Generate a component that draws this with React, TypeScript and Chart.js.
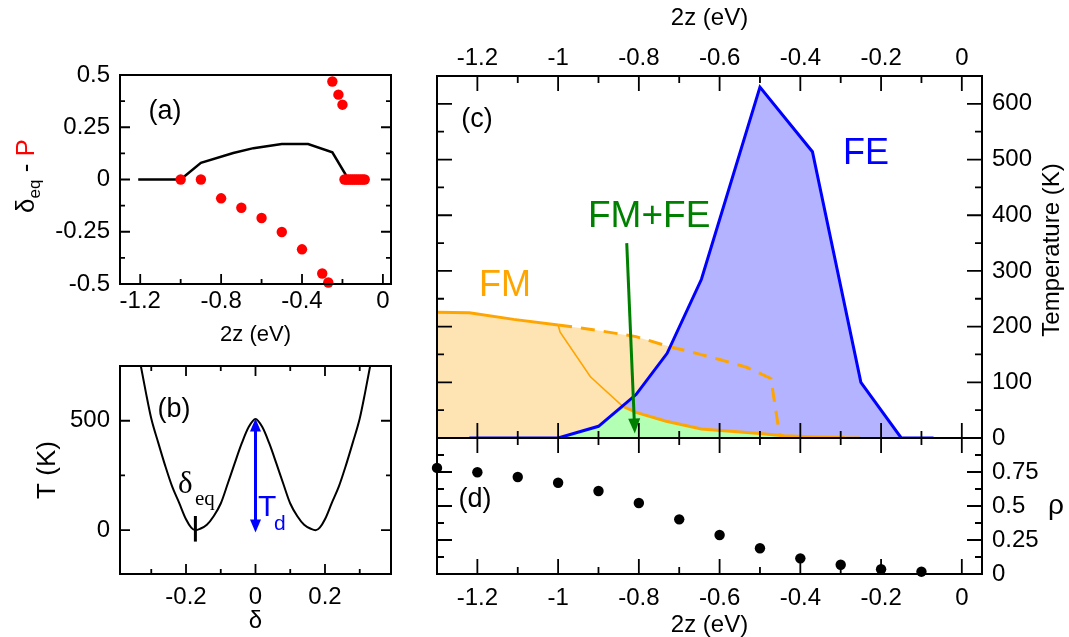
import React, { useEffect, useRef } from "react";
import { Chart, registerables } from "chart.js";

Chart.register(...registerables);

const SANS = "'Liberation Sans', Arial, Helvetica, sans-serif";
const SERIF = "'Liberation Serif', 'Times New Roman', serif";
const W = 1069;
const H = 637;

// ---------------- Panel (a) ----------------
const A_X_TICKS = [-1.2, -0.8, -0.4, 0];
const A_X_MINOR = [-1.0, -0.6, -0.2];
const A_Y_TICKS = [-0.5, -0.25, 0, 0.25, 0.5];
const A_Y_MINOR = [-0.375, -0.125, 0.125, 0.375];
const A_DELTA_Z = [-1.21, -1.0, -0.9, -0.74, -0.64, -0.5, -0.37, -0.25, -0.17, -0.08];
const A_DELTA_V = [0, 0, 0.08, 0.127, 0.15, 0.17, 0.17, 0.13, 0.0, 0.0];
const A_P_Z = [-1.0, -0.9, -0.8, -0.7, -0.6, -0.5, -0.4, -0.3, -0.27, -0.25, -0.22, -0.2,
  -0.19, -0.18, -0.17, -0.16, -0.15, -0.14, -0.13, -0.12, -0.11, -0.1, -0.09];
const A_P_V = [0, 0, -0.09, -0.135, -0.184, -0.251, -0.334, -0.45, -0.493, 0.469, 0.406, 0.358,
  0, 0, 0, 0, 0, 0, 0, 0, 0, 0, 0];

// ---------------- Panel (b) ----------------
const B_X_TICKS = [-0.2, 0, 0.2];
const B_X_MINOR = [-0.3, -0.1, 0.1, 0.3];
const B_Y_TICKS = [0, 500];
const B_Y_MINOR = [250];
const B_DELTA = [-0.345, -0.33, -0.315, -0.3, -0.28, -0.26, -0.24, -0.22, -0.2, -0.185, -0.173,
  -0.16, -0.14, -0.12, -0.1, -0.08, -0.06, -0.04, -0.02, 0,
  0.02, 0.04, 0.06, 0.08, 0.1, 0.12, 0.14, 0.16, 0.173, 0.185, 0.2, 0.22, 0.24, 0.26, 0.28, 0.3, 0.315, 0.33, 0.345];
const B_T = [880, 750, 625, 510, 400, 295, 200, 126, 50, 12, 0,
  6, 25, 65, 122, 212, 305, 395, 470, 508,
  470, 395, 305, 212, 122, 65, 25, 6, 0, 12, 50, 126, 200, 295, 400, 510, 625, 750, 880];
const B_ARROW_DELTA = 0;
const B_ARROW_T = [-10, 510];
const B_EQ_DELTA = -0.173;
const B_EQ_T = [-52, 65];

// ---------------- Panel (c) ----------------
const C_X_TICKS = [-1.2, -1, -0.8, -0.6, -0.4, -0.2, 0];
const C_X_MINOR = [-1.1, -0.9, -0.7, -0.5, -0.3, -0.1];
const C_Y_TICKS = [0, 100, 200, 300, 400, 500, 600];
const C_Y_MINOR = [50, 150, 250, 350, 450, 550];
// FE boundary (blue)
const C_FE_Z = [-1.22, -1.0, -0.9, -0.807, -0.73, -0.645, -0.5, -0.37, -0.25, -0.15, -0.07];
const C_FE_T = [0, 0, 21, 78, 152, 285, 630, 514, 100, 0, 0];
// FM boundary, solid part (orange)
const C_FM_Z = [-1.3, -1.22, -1.11, -1.0];
const C_FM_T = [226, 225, 213, 203];
// FM boundary, dashed part (orange)
const C_FMD_Z = [-1.0, -0.9, -0.807, -0.724, -0.657, -0.6, -0.533, -0.473, -0.452, -0.445, -0.25];
const C_FMD_T = [203, 193, 182, 164, 152, 141, 127, 107, 8, 0, 0];
// thin orange line
const C_FMT_Z = [-1.0, -0.995, -0.92, -0.84, -0.807];
const C_FMT_T = [203, 190, 110, 57, 46];
// lower orange line
const C_FML_Z = [-0.84, -0.807, -0.732, -0.645, -0.5, -0.44, -0.36, -0.29];
const C_FML_T = [57, 46, 30, 16, 8, 4, 2, 1];
// FM region envelope (orange fill)
const C_FMREG_Z = [-1.3, -1.22, -1.11, -1.0, -0.9, -0.807, -0.722];
const C_FMREG_T = [226, 225, 213, 203, 193, 182, 164];
// FM+FE region envelope (green fill)
const C_MIX_Z = [-1.0, -0.9, -0.835, -0.807, -0.732, -0.645, -0.5, -0.44];
const C_MIX_T = [0, 21, 55, 46, 30, 16, 8, 3];
// green arrow (from, to)
const C_ARROW_Z = [-0.83, -0.81];
const C_ARROW_T = [350, 8];

// ---------------- Panel (d) ----------------
const D_Y_TICKS = [0, 0.25, 0.5, 0.75];
const D_Y_MAJOR = [0.25, 0.5, 0.75];
const D_Y_MINOR = [0.125, 0.375, 0.625, 0.875];
const D_Z = [-1.3, -1.2, -1.1, -1.0, -0.9, -0.8, -0.7, -0.6, -0.5, -0.4, -0.3, -0.2, -0.1];
const D_RHO = [0.78, 0.748, 0.713, 0.671, 0.61, 0.522, 0.402, 0.287, 0.189, 0.115, 0.068, 0.035, 0.017];

// ---------------- helpers ----------------
const pts = (xs: number[], ys: number[]) => xs.map((x, i) => ({ x, y: ys[i] }));

function axis(o: any) {
  const horiz = o.position === "top" || o.position === "bottom";
  return {
    type: "linear",
    position: o.position,
    min: o.min,
    max: o.max,
    grid: { display: false, drawTicks: false },
    border: { display: false },
    afterBuildTicks: (s: any) => {
      s.ticks = o.ticks.map((v: number) => ({ value: v }));
    },
    afterFit: (s: any) => {
      if (horiz) s.height = o.size;
      else s.width = o.size;
    },
    ticks: {
      autoSkip: false,
      maxRotation: 0,
      minRotation: 0,
      padding: o.pad,
      color: "#000",
      font: { family: SANS, size: o.fs ?? 24, lineHeight: 1 },
      callback: (v: number) => String(v),
    },
    title: o.title
      ? {
          display: true,
          text: o.title,
          color: "#000",
          font: { family: SANS, size: o.titleSize ?? 24, lineHeight: 1 },
          padding: o.titlePad ?? 0,
        }
      : { display: false },
  };
}

function framePlugin(spec: any) {
  return {
    id: "frameTicks",
    afterDatasetsDraw(chart: any) {
      const { ctx, chartArea: a } = chart;
      const xs = chart.scales.x;
      const ys = chart.scales.y;
      ctx.save();
      ctx.strokeStyle = "#000";
      ctx.lineWidth = 1.8;
      ctx.beginPath();
      const xt = (vals: number[], len: number) =>
        vals.forEach((v) => {
          const p = xs.getPixelForValue(v);
          if (spec.xSides.includes("bottom")) {
            ctx.moveTo(p, a.bottom);
            ctx.lineTo(p, a.bottom - len);
          }
          if (spec.xSides.includes("top")) {
            ctx.moveTo(p, a.top);
            ctx.lineTo(p, a.top + len);
          }
        });
      const yt = (vals: number[], len: number) =>
        vals.forEach((v) => {
          const p = ys.getPixelForValue(v);
          if (spec.ySides.includes("left")) {
            ctx.moveTo(a.left, p);
            ctx.lineTo(a.left + len, p);
          }
          if (spec.ySides.includes("right")) {
            ctx.moveTo(a.right, p);
            ctx.lineTo(a.right - len, p);
          }
        });
      xt(spec.xMajor, spec.major);
      xt(spec.xMinor, spec.minor);
      yt(spec.yMajor, spec.major);
      yt(spec.yMinor, spec.minor);
      ctx.stroke();
      ctx.lineWidth = 2;
      ctx.strokeRect(a.left, a.top, a.right - a.left, a.bottom - a.top);
      ctx.restore();
    },
  };
}

type Txt = { t: string; x: number; y: number; size: number; color?: string; family?: string; align?: CanvasTextAlign; base?: CanvasTextBaseline };

function textPlugin(items: Txt[], extra?: (chart: any) => void) {
  return {
    id: "texts",
    afterDraw(chart: any) {
      const ctx = chart.ctx;
      ctx.save();
      items.forEach((it) => {
        ctx.font = `${it.size}px ${it.family ?? SANS}`;
        ctx.fillStyle = it.color ?? "#000";
        ctx.textAlign = it.align ?? "left";
        ctx.textBaseline = it.base ?? "alphabetic";
        ctx.fillText(it.t, it.x, it.y);
      });
      ctx.restore();
      if (extra) extra(chart);
    },
  };
}

function arrow(ctx: CanvasRenderingContext2D, x1: number, y1: number, x2: number, y2: number, color: string, lw: number, hl: number, hw: number, both: boolean) {
  const ang = Math.atan2(y2 - y1, x2 - x1);
  const head = (tx: number, ty: number, a: number) => {
    ctx.beginPath();
    ctx.moveTo(tx, ty);
    ctx.lineTo(tx - hl * Math.cos(a) + hw * Math.sin(a), ty - hl * Math.sin(a) - hw * Math.cos(a));
    ctx.lineTo(tx - hl * Math.cos(a) - hw * Math.sin(a), ty - hl * Math.sin(a) + hw * Math.cos(a));
    ctx.closePath();
    ctx.fill();
  };
  ctx.save();
  ctx.strokeStyle = color;
  ctx.fillStyle = color;
  ctx.lineWidth = lw;
  ctx.beginPath();
  const sx = both ? x1 + (hl - 2) * Math.cos(ang) : x1;
  const sy = both ? y1 + (hl - 2) * Math.sin(ang) : y1;
  ctx.moveTo(sx, sy);
  ctx.lineTo(x2 - (hl - 2) * Math.cos(ang), y2 - (hl - 2) * Math.sin(ang));
  ctx.stroke();
  head(x2, y2, ang);
  if (both) head(x1, y1, ang + Math.PI);
  ctx.restore();
}

const baseOptions = (padding: any, scales: any) => ({
  responsive: false,
  maintainAspectRatio: false,
  animation: false,
  devicePixelRatio: 1,
  layout: { padding },
  plugins: { legend: { display: false }, tooltip: { enabled: false } },
  scales,
});

// ---------------- chart builders ----------------
function buildA(): any {
  return {
    type: "line",
    data: {
      datasets: [
        { data: pts(A_P_Z, A_P_V), showLine: false, pointRadius: 5.2, pointBackgroundColor: "#ff0000", pointBorderWidth: 0, clip: false, order: 1 },
        { data: pts(A_DELTA_Z, A_DELTA_V), borderColor: "#000", borderWidth: 2.5, pointRadius: 0, tension: 0, fill: false, order: 2 },
      ],
    },
    options: baseOptions(
      { left: 20, right: 678, top: 75, bottom: 288 },
      {
        x: axis({ position: "bottom", min: -1.3, max: 0.04, ticks: A_X_TICKS, size: 65, pad: 5, title: "2z (eV)", titleSize: 22, titlePad: 3 }),
        y: axis({ position: "left", min: -0.5, max: 0.5, ticks: A_Y_TICKS, size: 100, pad: 10 }),
      }
    ),
    plugins: [
      framePlugin({ xMajor: A_X_TICKS, xMinor: A_X_MINOR, yMajor: A_Y_TICKS, yMinor: A_Y_MINOR, xSides: ["bottom"], ySides: ["left", "right"], major: 10, minor: 5 }),
      textPlugin([{ t: "(a)", x: 165, y: 112, size: 27, align: "center", base: "middle" }], (chart) => {
        const ctx = chart.ctx;
        const parts = [
          { t: "\u03b4", size: 26, color: "#000", dy: 9 },
          { t: "eq", size: 17, color: "#000", dy: 15 },
          { t: " - ", size: 26, color: "#000", dy: 9 },
          { t: "P", size: 26, color: "#ff0000", dy: 9 },
        ];
        ctx.save();
        ctx.translate(25, 176);
        ctx.rotate(-Math.PI / 2);
        let total = 0;
        const ws = parts.map((p) => {
          ctx.font = `${p.size}px ${SANS}`;
          const w = ctx.measureText(p.t).width;
          total += w;
          return w;
        });
        let x = -total / 2;
        ctx.textBaseline = "alphabetic";
        ctx.textAlign = "left";
        parts.forEach((p, i) => {
          ctx.font = `${p.size}px ${SANS}`;
          ctx.fillStyle = p.color;
          ctx.fillText(p.t, x, p.dy);
          x += ws[i];
        });
        ctx.restore();
      }),
    ],
  };
}

function buildB(): any {
  return {
    type: "line",
    data: {
      datasets: [
        { data: pts(B_DELTA, B_T), borderColor: "#000", borderWidth: 2, pointRadius: 0, cubicInterpolationMode: "monotone", fill: false },
      ],
    },
    options: baseOptions(
      { left: 20, right: 678, top: 366, bottom: 0 },
      {
        x: axis({ position: "bottom", min: -0.39, max: 0.39, ticks: B_X_TICKS, size: 63, pad: 11, title: "\u03b4", titleSize: 24, titlePad: 4 }),
        y: axis({ position: "left", min: -200, max: 750, ticks: B_Y_TICKS, size: 100, pad: 10, title: "T (K)", titleSize: 26, titlePad: 15 }),
      }
    ),
    plugins: [
      framePlugin({ xMajor: B_X_TICKS, xMinor: B_X_MINOR, yMajor: B_Y_TICKS, yMinor: B_Y_MINOR, xSides: ["bottom", "top"], ySides: ["left", "right"], major: 10, minor: 5 }),
      textPlugin(
        [
          { t: "(b)", x: 174, y: 410, size: 27, align: "center", base: "middle" },
          { t: "\u03b4", x: 178, y: 493, size: 31, family: SERIF },
          { t: "eq", x: 195, y: 505, size: 21, family: SERIF },
          { t: "T", x: 258, y: 516, size: 30, color: "#0000ff" },
          { t: "d", x: 274, y: 530, size: 21, color: "#0000ff" },
        ],
        (chart) => {
          const ctx = chart.ctx;
          const xs = chart.scales.x;
          const ys = chart.scales.y;
          ctx.save();
          ctx.strokeStyle = "#000";
          ctx.lineWidth = 3;
          ctx.beginPath();
          const ex = xs.getPixelForValue(B_EQ_DELTA);
          ctx.moveTo(ex, ys.getPixelForValue(B_EQ_T[0]));
          ctx.lineTo(ex, ys.getPixelForValue(B_EQ_T[1]));
          ctx.stroke();
          ctx.restore();
          const ax = xs.getPixelForValue(B_ARROW_DELTA);
          arrow(ctx, ax, ys.getPixelForValue(B_ARROW_T[0]), ax, ys.getPixelForValue(B_ARROW_T[1]), "#0000ff", 3, 13, 5.5, true);
        }
      ),
    ],
  };
}

function buildC(): any {
  return {
    type: "line",
    data: {
      datasets: [
        { data: pts(C_FE_Z, C_FE_T), borderColor: "#0000ff", borderWidth: 3, pointRadius: 0, tension: 0, fill: false, order: 1 },
        { data: pts(C_FML_Z, C_FML_T), borderColor: "#ffa500", borderWidth: 3, pointRadius: 0, tension: 0, fill: false, order: 2 },
        { data: pts(C_FMT_Z, C_FMT_T), borderColor: "#ffa500", borderWidth: 1.6, pointRadius: 0, tension: 0, fill: false, order: 3 },
        { data: pts(C_FMD_Z, C_FMD_T), borderColor: "#ffa500", borderWidth: 3, borderDash: [14, 9], pointRadius: 0, tension: 0, fill: false, order: 4 },
        { data: pts(C_FM_Z, C_FM_T), borderColor: "#ffa500", borderWidth: 3, pointRadius: 0, tension: 0, fill: false, order: 5 },
        { data: pts(C_MIX_Z, C_MIX_T), borderWidth: 0, borderColor: "rgba(0,0,0,0)", backgroundColor: "#b3ffb3", pointRadius: 0, tension: 0, fill: "origin", order: 10 },
        { data: pts(C_FE_Z, C_FE_T), borderWidth: 0, borderColor: "rgba(0,0,0,0)", backgroundColor: "#b3b3ff", pointRadius: 0, tension: 0, fill: "origin", order: 20 },
        { data: pts(C_FMREG_Z, C_FMREG_T), borderWidth: 0, borderColor: "rgba(0,0,0,0)", backgroundColor: "#ffe4b3", pointRadius: 0, tension: 0, fill: "origin", order: 30 },
      ],
    },
    options: baseOptions(
      { left: 437, right: 0, top: 0, bottom: 199 },
      {
        x: axis({ position: "top", min: -1.3, max: 0.05, ticks: C_X_TICKS, size: 76, pad: 6, title: "2z (eV)", titleSize: 24, titlePad: 6 }),
        y: axis({ position: "right", min: 0, max: 650, ticks: C_Y_TICKS, size: 87, pad: 10 }),
      }
    ),
    plugins: [
      framePlugin({ xMajor: C_X_TICKS, xMinor: C_X_MINOR, yMajor: C_Y_TICKS, yMinor: C_Y_MINOR, xSides: ["bottom", "top"], ySides: ["left", "right"], major: 15, minor: 7 }),
      textPlugin(
        [
          { t: "(c)", x: 477, y: 120, size: 27, align: "center", base: "middle" },
          { t: "FM+FE", x: 588, y: 227, size: 37, color: "#008000" },
          { t: "FM", x: 479, y: 296, size: 36, color: "#ffa500" },
          { t: "FE", x: 843, y: 164, size: 36, color: "#0000ff" },
        ],
        (chart) => {
          const ctx = chart.ctx;
          const xs = chart.scales.x;
          const ys = chart.scales.y;
          arrow(ctx, xs.getPixelForValue(C_ARROW_Z[0]), ys.getPixelForValue(C_ARROW_T[0]), xs.getPixelForValue(C_ARROW_Z[1]), ys.getPixelForValue(C_ARROW_T[1]), "#008000", 3, 15, 6, false);
          ctx.save();
          ctx.translate(1052, 250);
          ctx.rotate(-Math.PI / 2);
          ctx.font = `24px ${SANS}`;
          ctx.fillStyle = "#000";
          ctx.textAlign = "center";
          ctx.textBaseline = "middle";
          ctx.fillText("Temperature (K)", 0, 0);
          ctx.restore();
        }
      ),
    ],
  };
}

function buildD(): any {
  return {
    type: "line",
    data: {
      datasets: [
        { data: pts(D_Z, D_RHO), showLine: false, pointRadius: 5.2, pointBackgroundColor: "#000", pointBorderWidth: 0, clip: false },
      ],
    },
    options: baseOptions(
      { left: 437, right: 0, top: 438, bottom: 0 },
      {
        x: axis({ position: "bottom", min: -1.3, max: 0.05, ticks: C_X_TICKS, size: 63, pad: 12, title: "2z (eV)", titleSize: 24, titlePad: 0 }),
        y: axis({ position: "right", min: 0, max: 1, ticks: D_Y_TICKS, size: 87, pad: 10 }),
      }
    ),
    plugins: [
      framePlugin({ xMajor: C_X_TICKS, xMinor: C_X_MINOR, yMajor: D_Y_MAJOR, yMinor: D_Y_MINOR, xSides: ["bottom", "top"], ySides: ["left", "right"], major: 15, minor: 7 }),
      textPlugin([
        { t: "(d)", x: 475, y: 500, size: 27, align: "center", base: "middle" },
        { t: "\u03c1", x: 1056, y: 514, size: 28, align: "center" },
      ]),
    ],
  };
}

function Panel({ build }: { build: () => any }) {
  const ref = useRef<HTMLCanvasElement | null>(null);
  useEffect(() => {
    if (!ref.current) return;
    const chart = new Chart(ref.current, build());
    return () => chart.destroy();
  }, []);
  return (
    <canvas
      ref={ref}
      width={W}
      height={H}
      style={{ position: "absolute", left: 0, top: 0, width: W, height: H }}
    />
  );
}

export default function App() {
  Chart.defaults.font.family = SANS;
  Chart.defaults.color = "#000";
  return (
    <div style={{ position: "fixed", left: 0, top: 0, width: W, height: H, background: "#fff", overflow: "hidden" }}>
      <Panel build={buildC} />
      <Panel build={buildD} />
      <Panel build={buildA} />
      <Panel build={buildB} />
    </div>
  );
}
